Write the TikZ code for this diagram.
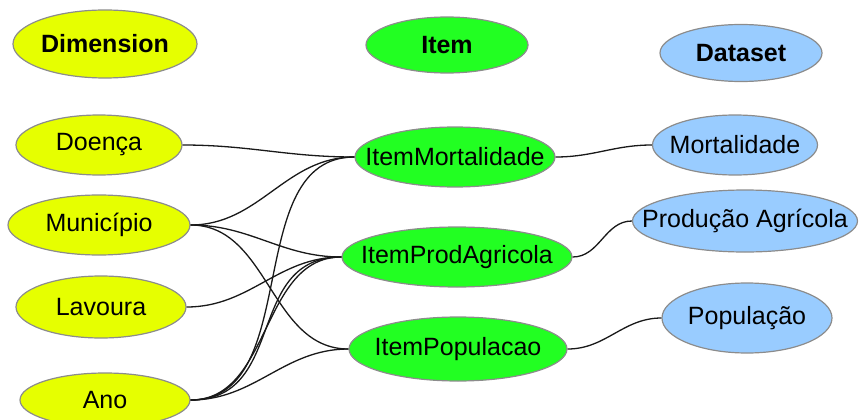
\documentclass[tikz,border=0pt]{standalone}
\usepackage{fontspec}
\setmainfont{Liberation Sans}
\usetikzlibrary{shapes.geometric}

\definecolor{dimfill}{RGB}{230,255,0}
\definecolor{itemfill}{RGB}{34,255,34}
\definecolor{setfill}{RGB}{153,204,255}
\definecolor{rimgray}{RGB}{140,140,140}
\definecolor{wire}{RGB}{25,25,25}

% An oval of fixed size whose caption sits in its centre without
% stretching the outline: the caption is a centred label.
\tikzset{
  oval/.style n args={3}{ellipse, draw=rimgray, line width=1.2pt, inner sep=0pt,
    minimum width=#1, minimum height=#2,
    label={[font=\fontsize{25}{30}\selectfont, text=black]center:#3}},
  boldoval/.style n args={3}{ellipse, draw=rimgray, line width=1.2pt, inner sep=0pt,
    minimum width=#1, minimum height=#2,
    label={[font=\fontsize{25}{30}\selectfont\bfseries, text=black]center:#3}},
  dimfilled/.style={fill=dimfill},
  itemfilled/.style={fill=itemfill},
  setfilled/.style={fill=setfill},
  link/.style={draw=wire, line width=1.3pt, out=0, in=180},
}

\begin{document}
\begin{tikzpicture}[x=1pt, y=-1pt]
\useasboundingbox (0,0) rectangle (859,420);

% column headings
\node[boldoval={184pt}{68pt}{Dimension}, dimfilled] (hdim) at (105,44) {};
\node[boldoval={162pt}{56pt}{Item}, itemfilled] (hitem) at (447,45) {};
\node[boldoval={162pt}{57pt}{Dataset}, setfilled] (hset) at (741,53) {};

% dimensions
\node[oval={166pt}{60pt}{Doença}, dimfilled] (doenca) at (99,145) {};
\node[oval={182pt}{60pt}{Município}, dimfilled] (municipio) at (99,225) {};
\node[oval={170pt}{62pt}{Lavoura}, dimfilled] (lavoura) at (101,307) {};
\node[oval={170pt}{54pt}{Ano}, dimfilled] (ano) at (105,400) {};

% items
\node[oval={200pt}{60pt}{ItemMortalidade}, itemfilled] (imort) at (455,157) {};
\node[oval={230pt}{60pt}{ItemProdAgricola}, itemfilled] (iprod) at (457,257) {};
\node[oval={218pt}{64pt}{ItemPopulacao}, itemfilled] (ipop) at (458,349) {};

% datasets
\node[oval={165pt}{60pt}{Mortalidade}, setfilled] (dmort) at (735,145) {};
\node[oval={225pt}{62pt}{Produção Agrícola}, setfilled] (dprod) at (745,221) {};
\node[oval={170pt}{70pt}{População}, setfilled] (dpop) at (747,318) {};

% dimension -> item links
\draw[link] (doenca.east) to (imort.west);
\draw[link] (municipio.east) to (imort.west);
\draw[link] (municipio.east) to (iprod.west);
\draw[link] (municipio.east) to (ipop.west);
\draw[link] (lavoura.east) to (iprod.west);
\draw[link] (ano.east) to (imort.west);
\draw[link] (ano.east) to (iprod.west);
\draw[link, looseness=1.2] (ano.east) to (iprod.west);
\draw[link] (ano.east) to (ipop.west);

% item -> dataset links
\draw[link] (imort.east) to (dmort.west);
\draw[link] (iprod.east) to (dprod.west);
\draw[link] (ipop.east) to (dpop.west);
\end{tikzpicture}
\end{document}
